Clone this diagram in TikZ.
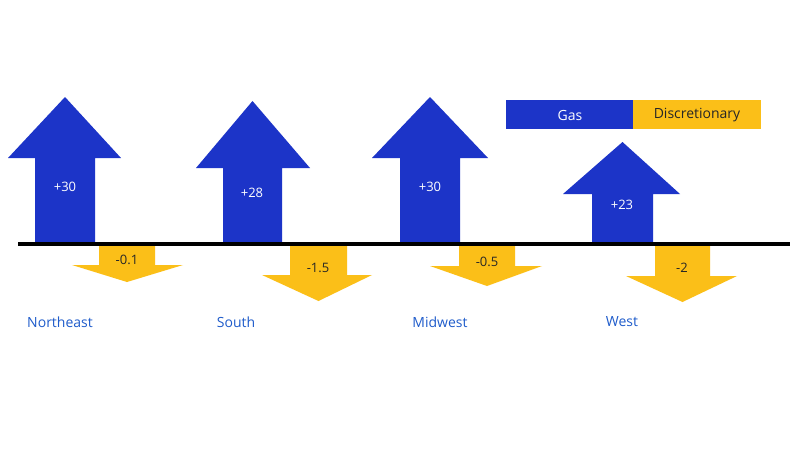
\documentclass[tikz,border=0pt]{standalone}
\usepackage{fontspec}
\setmainfont{Open Sans}
\begin{document}
\begin{tikzpicture}[x=1pt,y=-1pt,
  up/.style={fill=upblue,draw=none},
  dn/.style={fill=dnyellow,draw=none},
  val/.style={text=white,font=\fontsize{13}{15}\selectfont},
  dval/.style={text=black!85,font=\fontsize{13}{15}\selectfont},
  reg/.style={text=regblue,font=\fontsize{14}{16}\selectfont}]
\definecolor{upblue}{HTML}{1C34C8}
\definecolor{dnyellow}{HTML}{FBBF18}
\definecolor{regblue}{HTML}{1F5CCB}
\useasboundingbox[fill=white] (0,0) rectangle (800,450);
% blue up arrows
\foreach \n/\xl/\xr/\hl/\hr/\hb/\tip in {1/35/95/8/121/158/97, 2/223/282/196/310/168/101, 3/400/460/372/488/158/97, 4/592/653/563/680/194/142}{
  \path[up] (\xl,244) -- (\xl,\hb) -- (\hl,\hb) -- ({(\xl+\xr)/2},\tip) -- (\hr,\hb) -- (\xr,\hb) -- (\xr,244) -- cycle;
}
% yellow down arrows
\foreach \n/\xl/\xr/\hl/\hr/\hb/\tip in {1/99/155/72/183/265/282, 2/290/347/262/372/275/301, 3/459/515/430/542/266/286, 4/655/710/626/737/276/302}{
  \path[dn] (\xl,244) -- (\xl,\hb) -- (\hl,\hb) -- ({(\xl+\xr)/2},\tip) -- (\hr,\hb) -- (\xr,\hb) -- (\xr,244) -- cycle;
}
\draw[line width=3.5pt] (18,244) coordinate (bl) -- (790,244) coordinate (br);
\node[val] (v1) at (65,187) {+30};
\node[val] (v2) at (252,193) {+28};
\node[val] (v3) at (430,187) {+30};
\node[val] (v4) at (622,205) {+23};
\node[dval] (d1) at (127,260) {-0.1};
\node[dval] (d2) at (318,268) {-1.5};
\node[dval] (d3) at (487,262) {-0.5};
\node[dval] (d4) at (682,268) {-2};
\node[reg] (r1) at (60,322) {Northeast};
\node[reg] (r2) at (236,322) {South};
\node[reg] (r3) at (440,322) {Midwest};
\node[reg] (r4) at (622,322) {West};
\path[up] (506,100) rectangle (633,129);
\path[dn] (633,100) rectangle (761,129);
\node[val,font=\fontsize{14}{16}\selectfont] (lg) at (570,115) {Gas};
\node[dval,font=\fontsize{14}{16}\selectfont] (ld) at (697,115) {Discretionary};
\end{tikzpicture}
\end{document}
